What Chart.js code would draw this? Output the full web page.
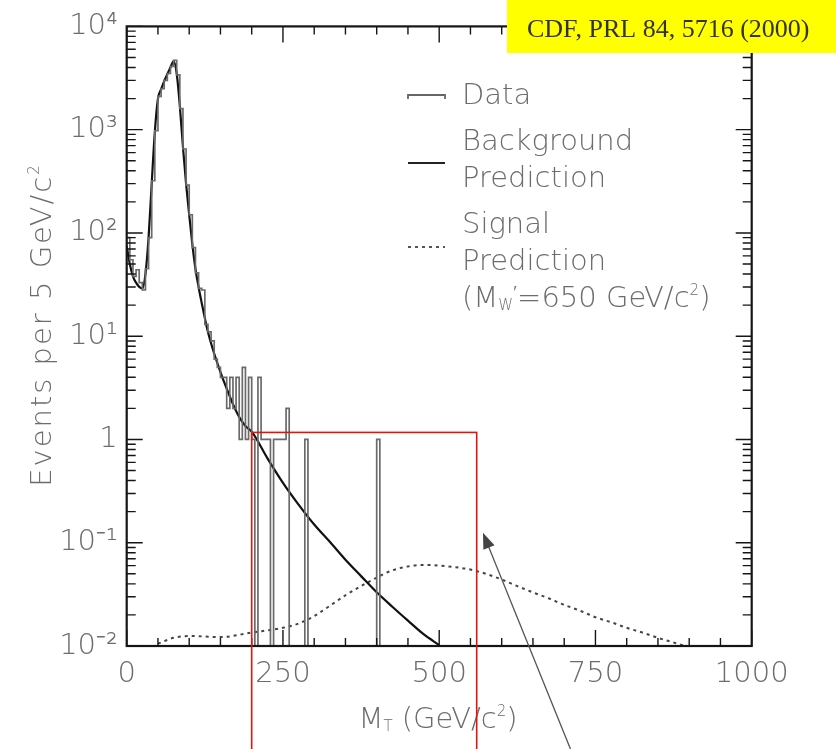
<!DOCTYPE html>
<html><head><meta charset="utf-8">
<script src="https://cdn.jsdelivr.net/npm/chart.js@4.4.0/dist/chart.umd.min.js"></script>
<style>html,body{margin:0;padding:0;background:#fff;overflow:hidden}canvas{display:block}</style>
</head><body><canvas id="c" width="836" height="749"></canvas>
<script>
// ---------------- data ----------------
const binWidth = 5; // GeV per bin
// Data: events per 5 GeV bin, starting at 0 GeV
const dataCounts = [
  90, 55, 38, 44, 33, 28, 45, 90, 320, 980,
  2100, 2500, 3000, 3500, 4100, 4700, 3400, 1600, 650, 290,
  150, 72, 41, 29, 28, 13, 11, 9, 6, 5,
  4, 4, 2, 4, 2, 4, 1, 5, 1, 4,
  1, 0, 4, 1, 1, 1, 0, 1, 1, 1,
  1, 2, 0, 0, 0, 0, 0, 1, 0, 0,
  0, 0, 0, 0, 0, 0, 0, 0, 0, 0,
  0, 0, 0, 0, 0, 0, 0, 0, 0, 0,
  1, 0
];
// Background prediction
const bgMass = [0,5,10,15,20,25,30,35,40,45,50,55,60,65,70,75,80,85,90,95,100,105,110,115,120,125,130,140,150,160,170,180,190,200,225,250,275,300,325,350,375,400,425,450,475,500];
const bgValue = [75,50,38,33,30,29,40,90,300,950,2000,2450,2950,3450,4000,4600,3500,1700,680,300,150,78,45,30,21,15,11,6.8,4.5,3.1,2.2,1.65,1.35,1.19,0.66,0.38,0.234,0.150,0.102,0.0684,0.0475,0.0331,0.024,0.0176,0.013,0.0102];
// Signal prediction (M_W' = 650 GeV/c^2)
const sigMass = [50,75,100,150,200,250,275,300,325,350,375,400,425,450,475,500,525,550,575,600,625,650,675,700,725,750,775,800,825,850,875,893];
const sigValue = [0.0105,0.012,0.0125,0.0122,0.0135,0.015,0.0165,0.0195,0.0245,0.031,0.038,0.046,0.054,0.059,0.061,0.06,0.058,0.055,0.05,0.044,0.038,0.033,0.029,0.025,0.022,0.019,0.017,0.015,0.0135,0.012,0.0108,0.0100];
// Axis ticks
const xTickValues = [0, 250, 500, 750, 1000];
const xTickLabels = ['0', '250', '500', '750', '1000'];
const yTickValues = [1e4, 1e3, 1e2, 1e1, 1, 1e-1, 1e-2];
const yTickLabels = ['10\u2074', '10\u00B3', '10\u00B2', '10\u00B9', '1', '10\u207B\u00B9', '10\u207B\u00B2'];
const zeroFloor = 1e-4; // empty bins drop below the axis floor

// ---------------- build datasets ----------------
const dataPts = dataCounts.map((v, i) => ({x: i * binWidth, y: v > 0 ? v : zeroFloor}));
dataPts.push({x: dataCounts.length * binWidth, y: zeroFloor});
const bgPts = bgMass.map((m, i) => ({x: m, y: bgValue[i]}));
const sigPts = sigMass.map((m, i) => ({x: m, y: sigValue[i]}));

const FONT = 'DejaVu Sans';
const WEIGHT = 300;
const GRAY = '#6c6c6c';

function richText(ctx, parts, x, y, align) {
  // parts: [text, size, dy]
  let w = 0;
  parts.forEach(p => { ctx.font = `${WEIGHT} ${p[1]}px "${FONT}"`; w += ctx.measureText(p[0]).width; });
  let cx = align === 'center' ? x - w / 2 : x;
  ctx.textAlign = 'left';
  parts.forEach(p => {
    ctx.font = `${WEIGHT} ${p[1]}px "${FONT}"`;
    ctx.fillText(p[0], cx, y + (p[2] || 0));
    cx += ctx.measureText(p[0]).width;
  });
}

const decor = {
  id: 'decor',
  afterDatasetsDraw(chart) {
    const {ctx, chartArea: a, scales: {x, y}} = chart;
    ctx.save();
    // frame
    ctx.strokeStyle = '#151515';
    ctx.lineWidth = 2.2;
    ctx.strokeRect(a.left, a.top, a.right - a.left, a.bottom - a.top);
    // inward ticks
    ctx.lineWidth = 1.4;
    ctx.beginPath();
    for (let v = 0; v <= 1000; v += 50) {
      const px = x.getPixelForValue(v);
      const L = v % 250 === 0 ? 16 : 8;
      ctx.moveTo(px, a.bottom); ctx.lineTo(px, a.bottom - L);
      ctx.moveTo(px, a.top); ctx.lineTo(px, a.top + L);
    }
    for (let e = -2; e <= 4; e++) {
      for (let m = 1; m <= 9; m++) {
        if (e === 4 && m > 1) break;
        const py = y.getPixelForValue(m * Math.pow(10, e));
        const L = m === 1 ? 16 : 9;
        ctx.moveTo(a.left, py); ctx.lineTo(a.left + L, py);
        ctx.moveTo(a.right, py); ctx.lineTo(a.right - L, py);
      }
    }
    ctx.stroke();

    // legend
    const lx0 = 408, lx1 = 445;
    ctx.strokeStyle = '#666'; ctx.lineWidth = 1.8;
    ctx.beginPath();
    ctx.moveTo(lx0, 99); ctx.lineTo(lx0, 95); ctx.lineTo(lx1, 95); ctx.lineTo(lx1, 99);
    ctx.stroke();
    ctx.strokeStyle = '#222'; ctx.lineWidth = 2;
    ctx.beginPath(); ctx.moveTo(lx0, 163); ctx.lineTo(lx1, 163); ctx.stroke();
    ctx.strokeStyle = '#555'; ctx.lineWidth = 2; ctx.setLineDash([3, 4]);
    ctx.beginPath(); ctx.moveTo(lx0, 247); ctx.lineTo(lx1, 247); ctx.stroke();
    ctx.setLineDash([]);

    ctx.fillStyle = GRAY;
    ctx.textBaseline = 'middle';
    const tx = 462, fs = 29;
    richText(ctx, [['Data', fs]], tx, 96);
    richText(ctx, [['Background', fs]], tx, 142);
    richText(ctx, [['Prediction', fs]], tx, 179);
    richText(ctx, [['Signal', fs]], tx, 225);
    richText(ctx, [['Prediction', fs]], tx, 262);
    richText(ctx, [['(M', fs], ['W', 15, 7], ['\u2032', 18, -5], ['=650 GeV/c', fs], ['2', 15, -8], [')', fs]], tx, 299);

    // axis titles
    richText(ctx, [['M', fs], ['T', 15, 7], [' (GeV/c', fs], ['2', 15, -8], [')', fs]], 438, 720, 'center');
    ctx.save();
    ctx.translate(43, 325);
    ctx.rotate(-Math.PI / 2);
    ctx.letterSpacing = '2px';
    richText(ctx, [['Events per 5 GeV/c', fs], ['2', 15, -8]], 0, 0, 'center');
    ctx.restore();
    ctx.restore();
  },
  afterDraw(chart) {
    const {ctx, scales: {x, y}} = chart;
    ctx.save();
    // red highlight box
    const rx0 = x.getPixelForValue(200), rx1 = x.getPixelForValue(560), ry0 = y.getPixelForValue(1.17);
    ctx.strokeStyle = '#e3140c'; ctx.lineWidth = 1.6;
    ctx.strokeRect(rx0, ry0, rx1 - rx0, chart.height + 20 - ry0);
    // arrow
    const tipX = x.getPixelForValue(570), tipY = y.getPixelForValue(0.125);
    const tailX = x.getPixelForValue(710), tailY = chart.height;
    ctx.strokeStyle = '#555'; ctx.fillStyle = '#444'; ctx.lineWidth = 1.3;
    const ang = Math.atan2(tipY - tailY, tipX - tailX);
    ctx.beginPath(); ctx.moveTo(tailX, tailY);
    ctx.lineTo(tipX - 10 * Math.cos(ang), tipY - 10 * Math.sin(ang)); ctx.stroke();
    ctx.beginPath();
    ctx.moveTo(tipX, tipY);
    ctx.lineTo(tipX - 16 * Math.cos(ang) + 6 * Math.sin(ang), tipY - 16 * Math.sin(ang) - 6 * Math.cos(ang));
    ctx.lineTo(tipX - 16 * Math.cos(ang) - 6 * Math.sin(ang), tipY - 16 * Math.sin(ang) + 6 * Math.cos(ang));
    ctx.closePath(); ctx.fill();
    // citation label
    ctx.fillStyle = '#ffff00';
    ctx.fillRect(507, 0, 329, 53);
    ctx.fillStyle = '#333';
    ctx.font = '26px "Liberation Serif"';
    ctx.textAlign = 'left'; ctx.textBaseline = 'alphabetic';
    ctx.fillText('CDF, PRL 84, 5716 (2000)', 527, 37);
    ctx.restore();
  }
};

new Chart(document.getElementById('c'), {
  type: 'line',
  data: {
    datasets: [
      {label: 'Data', data: dataPts, stepped: 'before', borderColor: '#6a6a6a', borderWidth: 1.7, pointRadius: 0, fill: false},
      {label: 'Background Prediction', data: bgPts, borderColor: '#111', borderWidth: 2.2, pointRadius: 0, cubicInterpolationMode: 'monotone', fill: false},
      {label: 'Signal Prediction', data: sigPts, borderColor: '#444', borderWidth: 2, borderDash: [3, 4], pointRadius: 0, cubicInterpolationMode: 'monotone', fill: false}
    ]
  },
  options: {
    responsive: false,
    animation: false,
    devicePixelRatio: 1,
    layout: {padding: {left: 0, top: 21.7, right: 84.3, bottom: 0}},
    plugins: {legend: {display: false}, tooltip: {enabled: false}},
    scales: {
      x: {
        type: 'linear', min: 0, max: 1000,
        afterBuildTicks: s => { s.ticks = xTickValues.map(v => ({value: v})); },
        afterFit: s => { s.height = 103; },
        grid: {display: false, drawTicks: false},
        border: {display: false},
        ticks: {callback: (v, i) => xTickLabels[i], color: GRAY, font: {family: FONT, size: 29, weight: WEIGHT}, padding: 11, maxRotation: 0, autoSkip: false}
      },
      y: {
        type: 'logarithmic', min: 0.01, max: 10000,
        afterBuildTicks: s => { s.ticks = yTickValues.map(v => ({value: v})); },
        afterFit: s => { s.width = 126.7; },
        grid: {display: false, drawTicks: false},
        border: {display: false},
        ticks: {callback: (v, i) => yTickLabels[i], color: GRAY, font: {family: FONT, size: 29, weight: WEIGHT}, padding: 9, autoSkip: false}
      }
    }
  },
  plugins: [decor]
});
</script>
</body></html>
